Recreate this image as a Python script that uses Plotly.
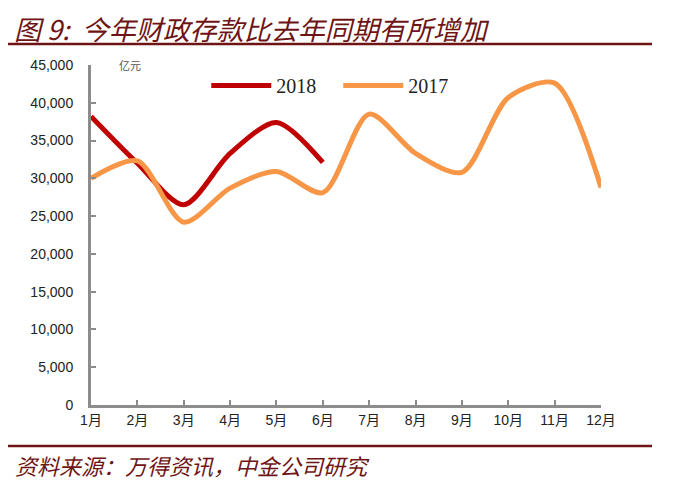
import plotly.graph_objects as go

# 月份与数据（亿元）
months = ['1月', '2月', '3月', '4月', '5月', '6月', '7月', '8月', '9月', '10月', '11月', '12月']
dep_2018 = [38200, 32000, 26500, 33300, 37400, 32100]
dep_2017 = [30000, 32300, 24200, 28700, 30900, 28100, 38500, 33300, 30800, 40700, 42600, 28800]
y_ticks = [0, 5000, 10000, 15000, 20000, 25000, 30000, 35000, 40000, 45000]

title_text = '图 9:  今年财政存款比去年同期有所增加'
source_text = '资料来源：万得资讯，中金公司研究'
dark_red = '#6E1414'

fig = go.Figure()
fig.add_trace(go.Scatter(
    x=months[:len(dep_2018)], y=dep_2018, name='2018', mode='lines',
    line=dict(color='#C00000', width=5, shape='spline', smoothing=0.8)
))
fig.add_trace(go.Scatter(
    x=months, y=dep_2017, name='2017', mode='lines',
    line=dict(color='#F79646', width=5, shape='spline', smoothing=0.8)
))

# page body has an 8px margin, so the figure is a bit smaller than the window
fig.update_layout(
    width=668, height=472,
    margin=dict(l=83, r=75, t=57, b=75),
    paper_bgcolor='white', plot_bgcolor='white',
    font=dict(family='Liberation Sans, Arial, Noto Sans CJK SC', size=14, color='#222222'),
    showlegend=True,
    legend=dict(
        orientation='h', x=0.226, y=0.94, xanchor='left', yanchor='middle',
        font=dict(family='Liberation Serif, Times New Roman', size=20, color='#222222'),
        bgcolor='rgba(0,0,0,0)', itemwidth=60, entrywidth=57, traceorder='normal'
    ),
    xaxis=dict(
        type='category', range=[0, 11], showgrid=False,
        showline=True, linecolor='#8C8C8C', linewidth=3,
        ticks='inside', ticklen=5, tickwidth=2, tickcolor='#8C8C8C',
        tickfont=dict(size=14), zeroline=False
    ),
    yaxis=dict(
        range=[0, 45000], tickvals=y_ticks, tickformat=',d', showgrid=False,
        showline=True, linecolor='#8C8C8C', linewidth=3,
        ticks='inside', ticklen=5, tickwidth=2, tickcolor='#8C8C8C',
        tickfont=dict(size=14), zeroline=False, ticklabelstandoff=12
    ),
)

# 单位
fig.add_annotation(text='亿元', xref='paper', yref='paper', x=0.05, y=1.0,
                   xanchor='left', yanchor='middle', showarrow=False,
                   font=dict(family='Noto Sans CJK SC', size=11, color='#555555'))

# 标题与来源
fig.add_annotation(text=title_text, xref='paper', yref='paper', x=-0.153, y=1.108,
                   xanchor='left', yanchor='middle', showarrow=False, borderpad=0,
                   font=dict(family='Noto Sans CJK SC', size=27, color=dark_red, style='italic'))
fig.add_shape(type='line', xref='paper', yref='paper', x0=-0.163, x1=1.1, y0=1.062, y1=1.062,
              line=dict(color=dark_red, width=2.5))
fig.add_shape(type='line', xref='paper', yref='paper', x0=-0.163, x1=1.1, y0=-0.1206, y1=-0.1206,
              line=dict(color=dark_red, width=2.5))
fig.add_annotation(text=source_text, xref='paper', yref='paper', x=-0.153, y=-0.176,
                   xanchor='left', yanchor='middle', showarrow=False,
                   font=dict(family='Noto Sans CJK SC', size=22, color=dark_red, style='italic'))

fig.write_html("out.html")
